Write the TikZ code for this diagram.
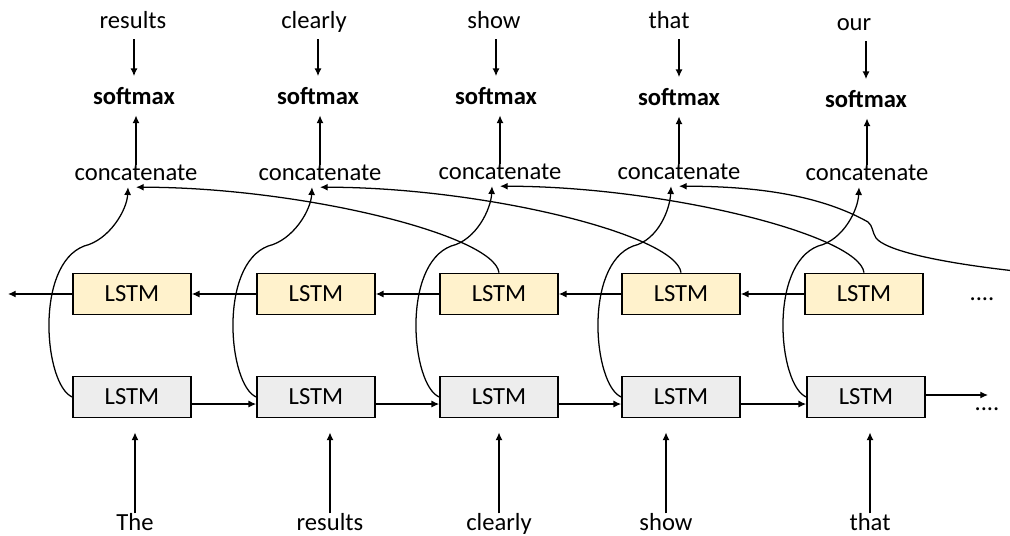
\documentclass[tikz,border=0pt]{standalone}
\usepackage{fontspec}
\setmainfont{Carlito}
\usetikzlibrary{arrows.meta}
\definecolor{lstmyellow}{HTML}{FFF2CC}
\definecolor{lstmgray}{HTML}{EDEDED}
\tikzset{
    wordtext/.style={font=\fontsize{17.5}{21}\selectfont, text height=1.6ex, text depth=0.4ex, inner sep=1pt},
    cctext/.style={wordtext, inner ysep=3pt},
    lstmbox/.style={draw, line width=1.1pt, minimum width=2.95cm, minimum height=1.03cm, inner sep=0pt, font=\fontsize{17.5}{21}\selectfont},
    bwbox/.style={lstmbox, fill=lstmyellow},
    fwbox/.style={lstmbox, fill=lstmgray},
    arr/.style={line width=0.9pt, -{Latex[length=5.5pt,width=5pt]}}
}
\begin{document}
\begin{tikzpicture}[x=0.025cm,y=-0.025cm]
    \useasboundingbox (0,0) rectangle (1010,536);
    % predicted words
    \node[wordtext] (out1) at (133,24) {results};
    \node[wordtext] (out2) at (314,24) {clearly};
    \node[wordtext] (out3) at (494,24) {show};
    \node[wordtext] (out4) at (669,24) {that};
    \node[wordtext] (out5) at (854,26) {our};
    \node[wordtext] (sm1) at (134,100) {\textbf{softmax}};
    \node[wordtext] (sm2) at (318,100) {\textbf{softmax}};
    \node[wordtext] (sm3) at (496,100) {\textbf{softmax}};
    \node[wordtext] (sm4) at (679,101) {\textbf{softmax}};
    \node[wordtext] (sm5) at (866,103) {\textbf{softmax}};
    \node[cctext] (cc1) at (136,176) {concatenate};
    \node[cctext] (cc2) at (320,176) {concatenate};
    \node[cctext] (cc3) at (500,175) {concatenate};
    \node[cctext] (cc4) at (679,175) {concatenate};
    \node[cctext] (cc5) at (867,176) {concatenate};
    % backward and forward LSTMs
    \node[bwbox] (bw1) at (132,294) {LSTM};
    \node[bwbox] (bw2) at (316,294) {LSTM};
    \node[bwbox] (bw3) at (499,294) {LSTM};
    \node[bwbox] (bw4) at (681,294) {LSTM};
    \node[bwbox] (bw5) at (864,294) {LSTM};
    \node[fwbox] (fw1) at (132,397) {LSTM};
    \node[fwbox] (fw2) at (316,397) {LSTM};
    \node[fwbox] (fw3) at (499,397) {LSTM};
    \node[fwbox] (fw4) at (681,397) {LSTM};
    \node[fwbox] (fw5) at (866,397) {LSTM};
    % input words
    \node[wordtext] (in1) at (135,526) {The};
    \node[wordtext] (in2) at (330,526) {results};
    \node[wordtext] (in3) at (499,526) {clearly};
    \node[wordtext] (in4) at (666,526) {show};
    \node[wordtext] (in5) at (870,526) {that};
    \node[wordtext] (dtop) at (982,296) {....};
    \node[wordtext] (dbot) at (987,406) {....};
    \coordinate (lout) at (8,294);
    \coordinate (rout) at (988,395);
    \coordinate (rin) at (1015,271);

    % word -> softmax -> concatenate
    \draw[arr,shorten <=5pt,shorten >=11pt] (sm1.north |- out1.south) -- (sm1.north);
    \draw[arr,shorten <=5pt,shorten >=11pt] (sm2.north |- out2.south) -- (sm2.north);
    \draw[arr,shorten <=5pt,shorten >=11pt] (sm3.north |- out3.south) -- (sm3.north);
    \draw[arr,shorten <=5pt,shorten >=11pt] (sm4.north |- out4.south) -- (sm4.north);
    \draw[arr,shorten <=5pt,shorten >=11pt] (sm5.north |- out5.south) -- (sm5.north);
    \draw[arr,shorten >=5pt] (cc1.north) -- (cc1.north |- sm1.south);
    \draw[arr,shorten >=5pt] (cc2.north) -- (cc2.north |- sm2.south);
    \draw[arr,shorten >=5pt] (cc3.north) -- (cc3.north |- sm3.south);
    \draw[arr,shorten >=5pt] (cc4.north) -- (cc4.north |- sm4.south);
    \draw[arr,shorten >=5pt] (cc5.north) -- (cc5.north |- sm5.south);

    % recurrent connections
    \draw[arr] (bw1.west) -- (lout);
    \draw[arr] (bw2.west) -- (bw1.east);
    \draw[arr] (bw3.west) -- (bw2.east);
    \draw[arr] (bw4.west) -- (bw3.east);
    \draw[arr] (bw5.west) -- (bw4.east);
    \draw[arr] ([yshift=-5pt]fw1.east) -- ([yshift=-5pt]fw2.west);
    \draw[arr] ([yshift=-5pt]fw2.east) -- ([yshift=-5pt]fw3.west);
    \draw[arr] ([yshift=-5pt]fw3.east) -- ([yshift=-5pt]fw4.west);
    \draw[arr] ([yshift=-5pt]fw4.east) -- ([yshift=-5pt]fw5.west);
    \draw[arr] (fw5.east |- rout) -- (rout);

    % inputs
    \draw[arr,shorten <=3pt,shorten >=10pt] (in1.north) -- (in1.north |- fw1.south);
    \draw[arr,shorten <=3pt,shorten >=10pt] (in2.north) -- (in2.north |- fw2.south);
    \draw[arr,shorten <=3pt,shorten >=10pt] (in3.north) -- (in3.north |- fw3.south);
    \draw[arr,shorten <=3pt,shorten >=10pt] (in4.north) -- (in4.north |- fw4.south);
    \draw[arr,shorten <=3pt,shorten >=10pt] (in5.north) -- (in5.north |- fw5.south);

    % forward states up to concatenate
    \draw[arr] (fw1.west) .. controls +(-28,-12) and +(-50,19) .. ++(12,-151) .. controls +(25,-6) and +(-1,23) .. ([xshift=-0.2cm]cc1.south);
    \draw[arr] (fw2.west) .. controls +(-28,-12) and +(-50,19) .. ++(12,-151) .. controls +(25,-6) and +(-1,23) .. ([xshift=-0.2cm]cc2.south);
    \draw[arr] (fw3.west) .. controls +(-28,-12) and +(-50,19) .. ++(12,-151) .. controls +(25,-6) and +(-1,23) .. ([xshift=-0.2cm]cc3.south);
    \draw[arr] (fw4.west) .. controls +(-28,-12) and +(-50,19) .. ++(12,-151) .. controls +(25,-6) and +(-1,23) .. ([xshift=-0.2cm]cc4.south);
    \draw[arr] (fw5.west) .. controls +(-28,-12) and +(-50,19) .. ++(12,-151) .. controls +(25,-6) and +(-1,23) .. ([xshift=-0.2cm]cc5.south);

    % backward states over to concatenate
    \draw[arr] (bw3.north) .. controls +(-5,-38) and +(163,0) .. (cc1.south);
    \draw[arr] (bw4.north) .. controls +(-5,-38) and +(163,0) .. (cc2.south);
    \draw[arr] (bw5.north) .. controls +(-5,-38) and +(163,0) .. (cc3.south);
    \draw[arr] (rin) .. controls +(-80,-9) and +(9,12) .. ++(-139,-33) .. controls +(-4,-6) and +(5,4) .. ++(-8,-16) .. controls +(-48,-27) and +(77,0) .. (cc4.south);
\end{tikzpicture}
\end{document}
